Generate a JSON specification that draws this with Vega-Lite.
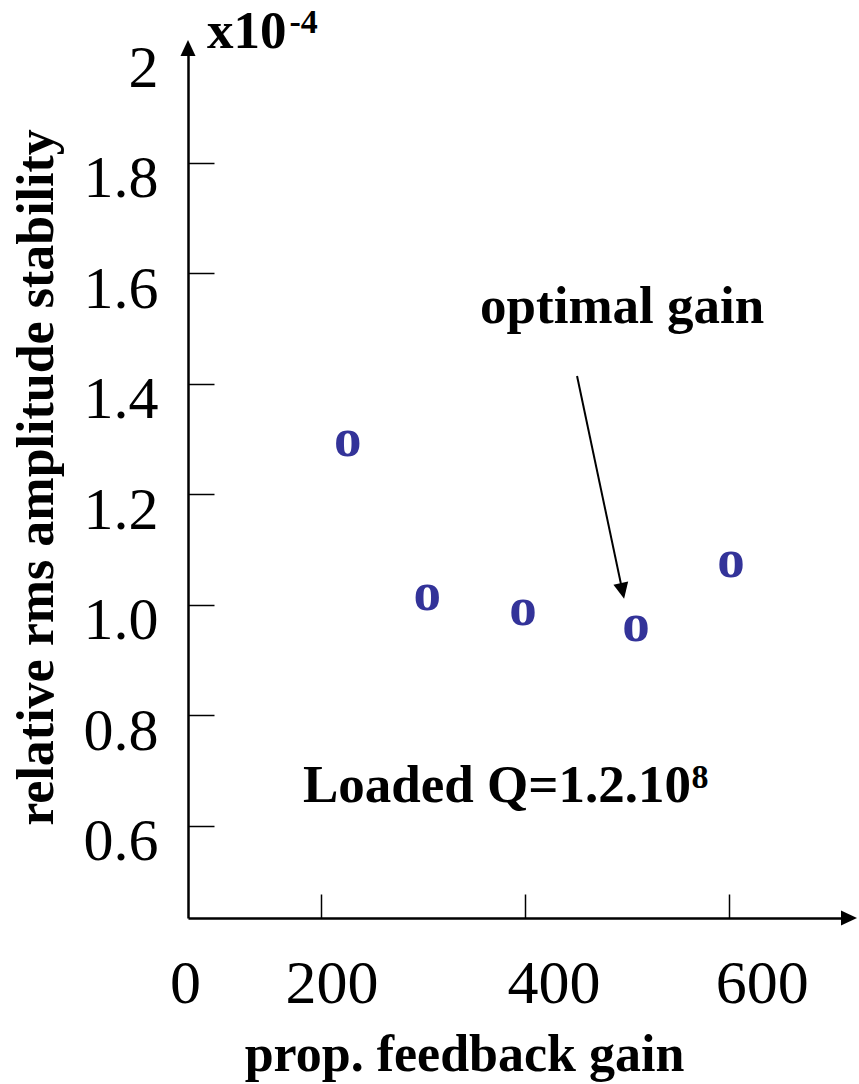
{
  "$schema": "https://vega.github.io/schema/vega-lite/v6.json",
  "width": 661,
  "height": 870,
  "autosize": {"type": "none"},
  "padding": {"left": 188, "top": 48, "right": 10, "bottom": 166},
  "background": "white",
  "config": {"view": {"stroke": null}, "font": "Liberation Serif"},
  "datasets": {
    "points": [
      {"gain": 226.6, "stability": 1.292},
      {"gain": 304.6, "stability": 1.015},
      {"gain": 398.4, "stability": 0.987},
      {"gain": 509.2, "stability": 0.9575},
      {"gain": 602.4, "stability": 1.073}
    ],
    "axisArrows": [
      {"x": 70, "y": 2.0078, "dir": "up"},
      {"x": 718, "y": 0.4331, "dir": "right"}
    ],
    "notes": [
      {"x": 88.6, "y": 2.0078, "label": "x10"},
      {"x": 356.3, "y": 1.51, "label": "optimal gain"},
      {"x": 182.7, "y": 0.6431, "label": "Loaded Q=1.2.10"}
    ],
    "sups": [
      {"x": 169.5, "y": 2.035, "label": "-4"},
      {"x": 563.5, "y": 0.6685, "label": "8"}
    ],
    "pointer": [
      {"x": 451.4, "y": 1.4142, "x2": 495.9, "y2": 1.025}
    ]
  },
  "layer": [
    {
      "data": {"name": "points"},
      "mark": {"type": "text", "text": "o", "font": "Liberation Serif", "fontWeight": "bold", "fontSize": 55, "color": "#333399", "align": "center", "baseline": "alphabetic", "dy": 13},
      "encoding": {
        "x": {
          "field": "gain", "type": "quantitative",
          "scale": {"domain": [70, 718], "nice": false, "zero": false},
          "axis": {
            "title": "prop. feedback gain",
            "values": [70, 200, 400, 600],
            "labelExpr": "datum.value < 100 ? '0' : datum.label",
            "grid": false,
            "domainColor": "black", "domainWidth": 2.5,
            "tickColor": "black", "tickWidth": 1.5, "tickSize": -24,
            "tickOpacity": {"condition": {"test": "datum.value < 100", "value": 0}, "value": 1},
            "labelPadding": 108, "labelBaseline": "alphabetic",
            "labelOffset": {"condition": [{"test": "datum.value < 100", "value": -3}, {"test": "datum.value < 300", "value": 11}, {"test": "datum.value < 500", "value": 29}], "value": 33},
            "labelFont": "Liberation Serif", "labelFontSize": 62, "labelColor": "black",
            "labelFlush": false, "labelOverlap": false, "labelBound": false,
            "titleFont": "Liberation Serif", "titleFontSize": 52, "titleFontWeight": "bold", "titleColor": "black",
            "titleX": 276, "titleY": 152, "titleBaseline": "alphabetic", "titleAlign": "center"
          }
        },
        "y": {
          "field": "stability", "type": "quantitative",
          "scale": {"domain": [0.4331, 2.0078], "nice": false, "zero": false},
          "axis": {
            "title": "relative rms amplitude stability",
            "values": [0.6, 0.8, 1.0, 1.2, 1.4, 1.6, 1.8, 2.0],
            "labelExpr": "datum.value > 1.9 ? '2' : format(datum.value, '.1f')",
            "grid": false,
            "domainColor": "black", "domainWidth": 2.5,
            "tickColor": "black", "tickWidth": 1.5, "tickSize": -26,
            "tickOpacity": {"condition": {"test": "datum.value > 1.9", "value": 0}, "value": 1},
            "labelPadding": 56, "labelBaseline": "alphabetic", "labelOffset": 34,
            "labelFont": "Liberation Serif", "labelFontSize": 60, "labelColor": "black",
            "labelOverlap": false, "labelBound": false, "labelFlush": false,
            "titleFont": "Liberation Serif", "titleFontSize": 52, "titleFontWeight": "bold", "titleColor": "black",
            "titleX": -136, "titleY": 429, "titleBaseline": "alphabetic", "titleAlign": "center", "titleAngle": -90
          }
        }
      }
    },
    {
      "data": {"name": "axisArrows"},
      "mark": {"type": "point", "filled": true, "color": "black", "size": 256, "opacity": 1, "strokeWidth": 0},
      "encoding": {
        "x": {"field": "x", "type": "quantitative"},
        "y": {"field": "y", "type": "quantitative"},
        "shape": {"field": "dir", "type": "nominal", "scale": {"domain": ["up", "right"], "range": ["M0,-1L0.94,1L-0.94,1Z", "M1,0L-1,-0.94L-1,0.94Z"]}, "legend": null}
      }
    },
    {
      "data": {"name": "pointer"},
      "mark": {"type": "rule", "color": "black", "strokeWidth": 2},
      "encoding": {
        "x": {"field": "x", "type": "quantitative"},
        "y": {"field": "y", "type": "quantitative"},
        "x2": {"field": "x2"},
        "y2": {"field": "y2"}
      }
    },
    {
      "data": {"name": "pointer"},
      "mark": {"type": "point", "filled": true, "color": "black", "size": 256, "opacity": 1, "strokeWidth": 0, "shape": "M0,1L-0.94,-1L0.94,-1Z", "angle": -11.9},
      "encoding": {
        "x": {"field": "x2", "type": "quantitative"},
        "y": {"field": "y2", "type": "quantitative"}
      }
    },
    {
      "data": {"name": "notes"},
      "mark": {"type": "text", "font": "Liberation Serif", "fontWeight": "bold", "fontSize": 53, "color": "black", "align": "left", "baseline": "alphabetic"},
      "encoding": {
        "x": {"field": "x", "type": "quantitative"},
        "y": {"field": "y", "type": "quantitative"},
        "text": {"field": "label"}
      }
    },
    {
      "data": {"name": "sups"},
      "mark": {"type": "text", "font": "Liberation Serif", "fontWeight": "bold", "fontSize": 34, "color": "black", "align": "left", "baseline": "alphabetic"},
      "encoding": {
        "x": {"field": "x", "type": "quantitative"},
        "y": {"field": "y", "type": "quantitative"},
        "text": {"field": "label"}
      }
    }
  ]
}
